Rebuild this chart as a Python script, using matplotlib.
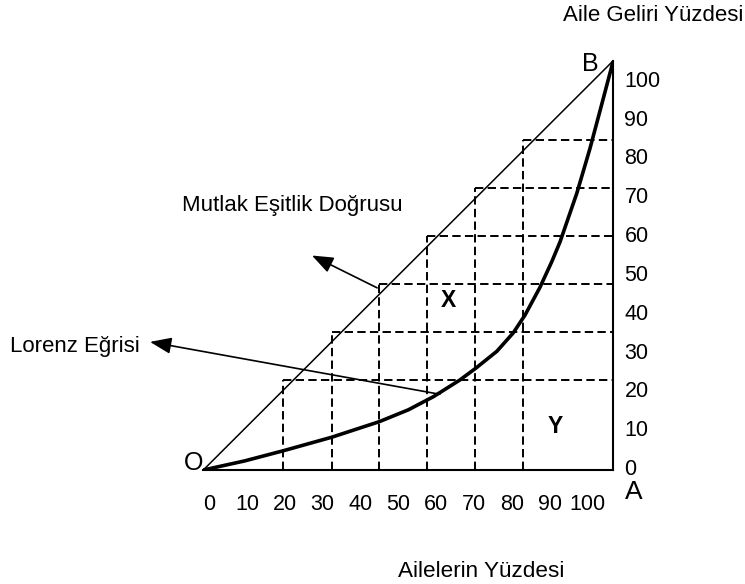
import matplotlib
matplotlib.use("Agg")
import matplotlib.pyplot as plt
import numpy as np

plt.rcParams['font.family'] = ['Liberation Sans', 'DejaVu Sans']

# Lorenz curve (% of families, % of income)
lorenz_x = [0, 10, 19.5, 31.3, 42.9, 50, 56.1, 62.6, 66.5, 71.6, 75.6, 78.5, 82.1, 85, 87, 91.1, 94.3, 97.2, 100]
lorenz_y = [0, 2.2, 4.7, 8.0, 11.8, 14.7, 17.9, 22.0, 24.9, 29.0, 33.5, 37.9, 44.6, 50.9, 55.7, 67.6, 78.5, 89.4, 100]

# staircase of dashed guide lines
step_x = [19.5, 31.3, 42.9, 54.6, 66.3, 78.0]
step_y = [22.0, 33.7, 45.4, 57.1, 68.9, 80.5]

x_labels = ['0', '10', '20', '30', '40', '50', '60', '70', '80', '90', '100']
y_labels = ['0', '10', '20', '30', '40', '50', '60', '70', '80', '90', '100']

fig = plt.figure(figsize=(7.45, 5.84), dpi=100)
ax = fig.add_axes([0.2729, 0.1952, 0.5503, 0.7009])
ax.set_xlim(0, 100)
ax.set_ylim(0, 100)

for s in ['top', 'left']:
    ax.spines[s].set_visible(False)
for s in ['bottom', 'right']:
    ax.spines[s].set_linewidth(1.5)

# labels are spaced a bit tighter than the grid in the original drawing
ax.set_xticks(np.linspace(1.4, 93.8, 11), x_labels)
ax.yaxis.tick_right()
ax.set_yticks(np.linspace(0.7, 95.6, 11), y_labels)
ax.tick_params(axis='x', length=0, pad=17, labelsize=15.5)
ax.tick_params(axis='y', length=0, pad=8, labelsize=15.5)

dash = (0, (4.3, 2.2))
ax.hlines(step_y, step_x, 100, colors='black', linestyles=dash, lw=1.4)
ax.vlines(step_x, 0, step_y, colors='black', linestyles=dash, lw=1.4)

ax.plot([0, 100], [0, 100], color='black', lw=1.1)
ax.plot(lorenz_x, lorenz_y, color='black', lw=2.6, solid_capstyle='round', solid_joinstyle='round')

ap = dict(arrowstyle='-|>,head_length=0.65,head_width=0.25', color='black', lw=1.2,
          mutation_scale=20, shrinkA=0, shrinkB=0)
ax.annotate('', xy=(26.5, 52.4), xytext=(42.4, 44.5), arrowprops=ap, annotation_clip=False)
ax.annotate('', xy=(-13, 31.3), xytext=(57.7, 18.5), arrowprops=ap, annotation_clip=False)

ax.text(-5.2, 64.6, 'Mutlak Eşitlik Doğrusu', fontsize=16, va='center', ha='left')
ax.text(-47.2, 30.1, 'Lorenz Eğrisi', fontsize=16, va='center', ha='left', clip_on=False)
ax.text(59.8, 41.5, 'X', fontsize=16.5, fontweight='bold', ha='center', va='center')
ax.text(85.8, 10.7, 'Y', fontsize=16.5, fontweight='bold', ha='center', va='center')
ax.text(-2.4, 1.8, 'O', fontsize=18, ha='center', va='center', clip_on=False)
ax.text(94.3, 99.2, 'B', fontsize=18, ha='center', va='center', clip_on=False)
ax.text(104.9, -5.3, 'A', fontsize=19, ha='center', va='center', clip_on=False)
ax.text(109.7, 111, 'Aile Geliri Yüzdesi', fontsize=16, ha='center', va='center', clip_on=False)
ax.text(67.7, -24.8, 'Ailelerin Yüzdesi', fontsize=16.2, ha='center', va='center', clip_on=False)

fig.savefig('out.png', dpi=100)
